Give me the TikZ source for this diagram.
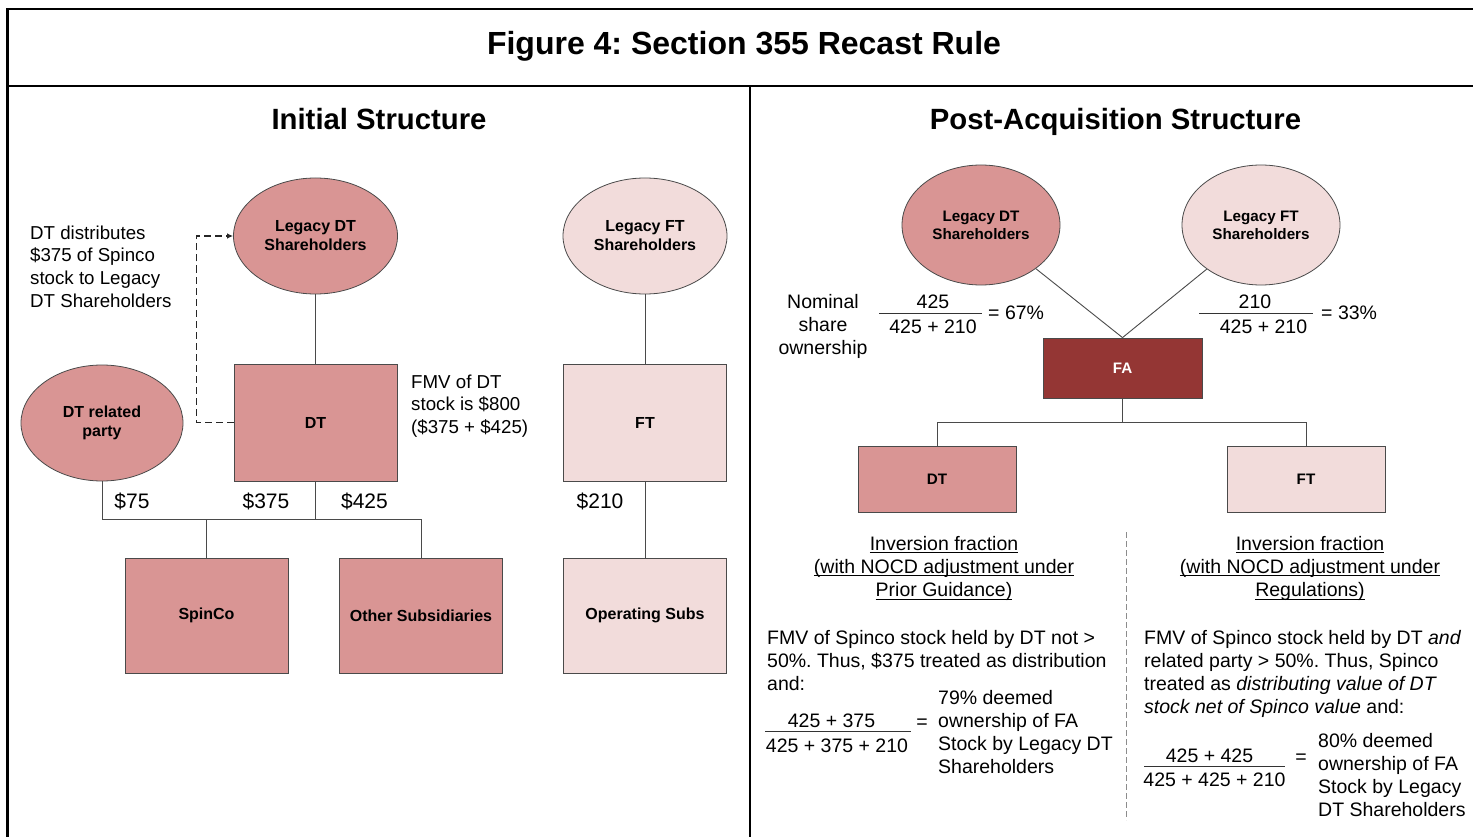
\documentclass[tikz,border=0pt]{standalone}
\usepackage{fontspec}
\setmainfont{Liberation Sans}
\usetikzlibrary{shapes.geometric,arrows.meta}

\definecolor{rosefill}{HTML}{D99594}
\definecolor{blushfill}{HTML}{F2DCDB}
\definecolor{fafill}{HTML}{943634}
\definecolor{outline}{HTML}{4A4A4A}
\definecolor{wireclr}{HTML}{4A4A4A}

\newcommand{\fsz}[2]{\fontsize{#1}{#2}\selectfont}
% multi-line text whose baseline is the first line's baseline
\newcommand{\stk}[2][l]{\begin{tabular}[t]{@{}#1@{}}#2\end{tabular}}
% underline sitting just below the baseline
\newcommand{\undl}[1]{\setbox0=\hbox{#1}\rlap{\rule[-3pt]{\wd0}{0.9pt}}\box0}

\begin{document}
\frenchspacing
\begin{tikzpicture}[x=1pt, y=-1pt,
  frame/.style={line width=2.2pt, black},
  ent/.style={draw=outline, line width=0.8pt, align=center, inner sep=0pt,
              font=\bfseries\fsz{16}{19}},
  lbox/.style={ent, rectangle, minimum width=163pt, minimum height=117pt},
  loval/.style={ent, ellipse, minimum width=164pt, minimum height=116pt},
  rbox/.style={ent, rectangle, minimum width=158pt, minimum height=66pt,
               font=\bfseries\fsz{15.2}{18}},
  roval/.style={ent, ellipse, minimum width=158pt, minimum height=120pt,
                font=\bfseries\fsz{15.2}{18}},
  wire/.style={draw=wireclr, line width=0.9pt},
  fracbar/.style={draw=black!80, line width=0.9pt},
  divider/.style={draw=black!45, line width=0.9pt, dash pattern=on 6pt off 3pt},
  heading/.style={inner sep=0pt, font=\bfseries\fsz{29.3}{34}},
  note/.style={inner sep=0pt, font=\fsz{18.7}{22.7}},
  rnote/.style={inner sep=0pt, font=\fsz{19.5}{23.3}},
  amount/.style={inner sep=0pt, font=\fsz{21}{25}, anchor=base}
]
\useasboundingbox (0,0) rectangle (1473,837);
\fill[white] (0,0) rectangle (1473,837);

% ---- outer frame and panel rules
\draw[frame] (1473,9) -- (7.5,9) -- (7.5,837);
\draw[frame] (7.5,86) -- (1473,86);
\draw[frame] (750,86) -- (750,837);

% ---- titles
\node[inner sep=0pt, font=\bfseries\fsz{32}{38}, anchor=base] (title) at (744,55)
  {Figure 4: Section 355 Recast Rule};
\node[heading, anchor=base] (hinit) at (379,130) {Initial Structure};
\node[heading, anchor=base] (hpost) at (1115.5,130) {Post-Acquisition Structure};

% ================= Initial structure =================
\node[loval, fill=rosefill]  (ldtsh) at (315.5,236) {Legacy DT\\Shareholders};
\node[loval, fill=blushfill] (lftsh) at (645,236)   {Legacy FT\\Shareholders};
\node[loval, fill=rosefill, minimum width=162pt] (rel) at (102,423) {DT related\\party};
\node[lbox, fill=rosefill]  (ldt) at (315.5,422.5) {DT};
\node[lbox, fill=blushfill] (lft) at (645,422.5)   {FT};
\node[lbox, fill=rosefill, minimum height=115pt]  (spin)  at (206.5,615.5) {SpinCo};
\node[lbox, fill=rosefill, minimum height=115pt]  (other) at (421,615.5)   {Other Subsidiaries};
\node[lbox, fill=blushfill, minimum height=115pt] (ops)   at (645,615.5)   {Operating Subs};

\coordinate (lbus) at (102,519);
\draw[wire] (ldtsh.south) -- (ldt.north);
\draw[wire] (rel.south) -- (rel.south |- lbus) -- (other.north |- lbus) -- (other.north);
\draw[wire] (ldt.south) -- (ldt.south |- lbus);
\draw[wire] (spin.north) -- (spin.north |- lbus);
\draw[wire] (lftsh.south) -- (lft.north);
\draw[wire] (lft.south) -- (ops.north);

% distribution of Spinco stock up to the shareholders
\draw[draw=black!85, line width=1.1pt, dash pattern=on 7pt off 4pt,
      -{Latex[length=6pt,width=5.5pt]}]
  (ldt.west) -- ++(-37,0) |- (ldtsh.west);

\node[note, anchor=base west] (distnote) at (30,239.3)
  {\stk{DT distributes\\\$375 of Spinco\\stock to Legacy\\DT Shareholders}};
\node[note, anchor=base west] (fmvnote) at (411,388)
  {\stk{FMV of DT\\stock is \$800\\(\$375 + \$425)}};

\node[amount] (a75)  at (132,508)   {\$75};
\node[amount] (a375) at (266,508)   {\$375};
\node[amount] (a425) at (364.5,508) {\$425};
\node[amount] (a210) at (600,508)   {\$210};

% ================= Post-acquisition structure =================
\node[roval, fill=rosefill]  (rdtsh) at (981,225)  {Legacy DT\\Shareholders};
\node[roval, fill=blushfill] (rftsh) at (1261,225) {Legacy FT\\Shareholders};
\node[ent, rectangle, fill=fafill, text=white, minimum width=159pt,
      minimum height=60pt, font=\bfseries\fsz{15.2}{18}] (fa) at (1122.5,368) {FA};
\node[rbox, fill=rosefill]  (rdt) at (937,479)  {DT};
\node[rbox, fill=blushfill] (rft) at (1306,479) {FT};

\coordinate (rbus) at (1122.5,422);
\draw[wire] (rdtsh) -- (fa.north);
\draw[wire] (rftsh) -- (fa.north);
\draw[wire] (fa.south) -- (rbus);
\draw[wire] (rdt.north) -- (rdt.north |- rbus) -- (rft.north |- rbus) -- (rft.north);

% nominal ownership fractions
\node[rnote, anchor=base] (nominal) at (823,308) {\stk[c]{Nominal\\share\\ownership}};
\node[rnote, anchor=base] (n1) at (933,308) {425};
\draw[fracbar] (879,313) -- (982,313);
\node[rnote, anchor=base] (d1) at (933,333) {425 + 210};
\node[rnote, anchor=base west] (e1) at (988,319) {= 67\%};

\node[rnote, anchor=base] (n2) at (1255,308) {210};
\draw[fracbar] (1199,313) -- (1313,313);
\node[rnote, anchor=base] (d2) at (1263.5,333) {425 + 210};
\node[rnote, anchor=base west] (e2) at (1321,319) {= 33\%};

% two readings of the inversion fraction
\draw[divider] (1126.5,532) -- (1126.5,820);

\node[rnote, anchor=base] (invL) at (944,550)
  {\stk[c]{\undl{Inversion fraction}\\\undl{(with NOCD adjustment under}\\\undl{Prior Guidance)}}};
\node[rnote, anchor=base] (invR) at (1310,550)
  {\stk[c]{\undl{Inversion fraction}\\\undl{(with NOCD adjustment under}\\\undl{Regulations)}}};

\node[rnote, anchor=base west] (fmvL) at (767,644)
  {\stk{FMV of Spinco stock held by DT not >\\50\%. Thus, \$375 treated as distribution\\and:}};
\node[rnote, anchor=base west] (fmvR) at (1144,644)
  {\stk{FMV of Spinco stock held by DT \textit{and}\\related party > 50\%. Thus, Spinco\\treated as \textit{distributing value of DT}\\\textit{stock net of Spinco value} and:}};

\node[rnote, anchor=base] (n3) at (831.5,727) {425 + 375};
\draw[fracbar] (765,731) -- (911,731);
\node[rnote, anchor=base] (d3) at (837,752) {425 + 375 + 210};
\node[rnote, anchor=base] (eq3) at (922,728) {=};
\node[rnote, anchor=base west] (res3) at (938,704)
  {\stk{79\% deemed\\ownership of FA\\Stock by Legacy DT\\Shareholders}};

\node[rnote, anchor=base] (n4) at (1209.5,762) {425 + 425};
\draw[fracbar] (1144,766) -- (1285,766);
\node[rnote, anchor=base] (d4) at (1214.5,786) {425 + 425 + 210};
\node[rnote, anchor=base] (eq4) at (1301,763) {=};
\node[rnote, anchor=base west] (res4) at (1318,747)
  {\stk{80\% deemed\\ownership of FA\\Stock by Legacy\\DT Shareholders}};

\end{tikzpicture}
\end{document}
